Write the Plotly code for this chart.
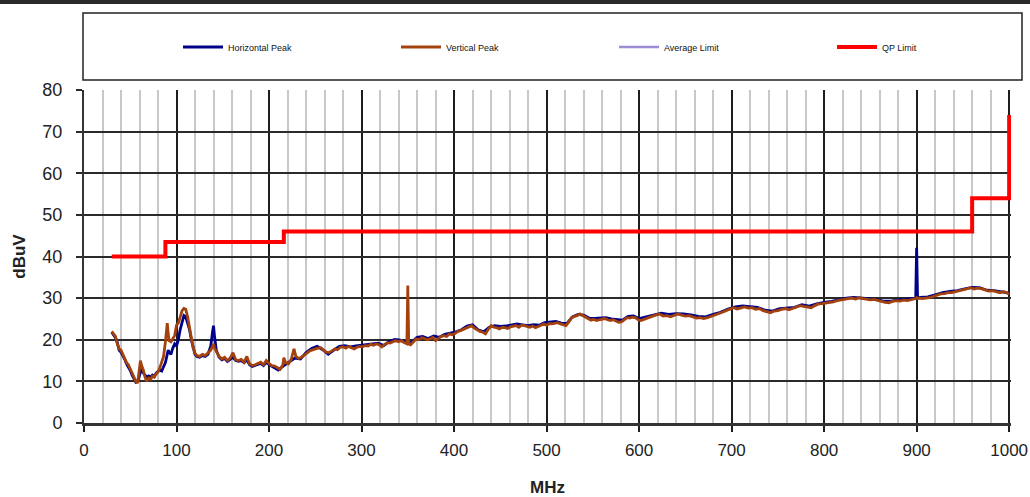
import plotly.graph_objects as go

# ---- Measured emission sweep, 30 MHz - 1 GHz (dBuV) ----
vert_freq = [
    30, 32, 34, 36, 38, 40, 42, 44, 46, 48, 50, 52, 54, 56, 58, 60, 61, 62, 64, 66,
    68, 70, 72, 74, 76, 78, 80, 82, 84, 86, 88, 89, 90, 91, 92, 94, 96, 98, 100, 102,
    104, 106, 108, 110, 112, 114, 116, 118, 120, 122, 125, 128, 131, 134, 137, 139, 140, 141, 143, 146,
    149, 152, 155, 158, 161, 164, 167, 170, 173, 176, 179, 182, 185, 188, 191, 194, 197, 200,
    203, 206, 209, 212, 215, 216, 218, 221, 224, 227, 229, 232, 235, 238, 241, 244, 247, 250,
    253, 256, 259, 262, 265, 268, 271, 274, 277, 280, 283, 286, 289, 292, 295, 298, 301, 304,
    307, 310, 313, 316, 319, 322, 325, 328, 331, 334, 337, 340, 343, 346, 349, 350, 351, 353,
    356, 359, 362, 365, 368, 371, 374, 377, 380, 383, 386, 389, 392, 395, 398,
    401, 404, 407, 410, 413, 416, 419, 422, 425, 428, 431, 434, 437, 440, 443, 446, 449, 452,
    455, 458, 461, 464, 467, 470, 473, 476, 479, 482, 485, 488, 491, 494, 497, 500, 503, 506,
    509, 512, 515, 518, 521, 524, 527, 530, 533, 536, 539, 542, 545, 548, 551, 554, 557, 560,
    563, 566, 569, 572, 575, 578, 581, 584, 587, 590, 593, 596, 599,
    602, 606, 610, 614, 618, 622, 626, 630, 634, 638, 642, 646, 650, 654, 658, 662, 666, 670,
    674, 678, 682, 686, 690, 694, 698, 702, 706, 710, 714, 718, 722, 726, 730, 734, 738, 742,
    746, 750, 754, 758, 762, 766, 770, 774, 778, 782, 786, 790, 794, 798,
    802, 806, 810, 814, 818, 822, 826, 830, 834, 838, 842, 846, 850, 854, 858, 862, 866, 870,
    874, 878, 882, 886, 890, 894, 897, 899, 900, 901, 903, 906, 910, 914, 918, 922, 926, 930,
    934, 938, 942, 946, 950, 954, 958, 962, 966, 970, 974, 978, 982, 986, 990, 994, 998, 1000,
]
vert_peak = [
    22.0, 21.5, 20.8, 19.0, 17.8, 17.5, 16.5, 15.8, 14.5, 14.0, 13.0, 12.0, 10.8, 10.0, 9.6, 12.5, 15.0, 14.0, 12.8, 11.0,
    10.0, 10.8, 10.5, 11.2, 11.0, 11.8, 12.2, 13.3, 14.5, 16.0, 19.5, 22.0, 24.0, 21.5, 19.8, 19.5, 20.3, 21.0, 23.5, 24.0,
    25.5, 27.0, 27.5, 27.3, 25.5, 23.0, 20.5, 18.0, 16.8, 16.2, 16.0, 16.5, 16.2, 16.8, 17.5, 18.5, 19.0, 18.0, 17.3, 16.0,
    15.4, 15.8, 15.0, 15.6, 16.9, 15.2, 15.0, 15.3, 14.6, 16.0, 14.2, 13.8, 14.0, 14.3, 14.6, 14.0, 15.0, 14.3,
    13.8, 13.7, 13.2, 12.9, 14.0, 15.7, 14.5, 14.2, 15.3, 17.8, 16.0, 15.5, 15.8, 16.4, 16.8, 17.3, 17.6, 17.8,
    18.0, 18.1, 17.5, 17.0, 16.9, 17.4, 17.8, 17.6, 18.2, 18.3, 18.0, 18.4, 18.1, 17.8, 18.2, 18.4, 18.3, 18.6,
    18.5, 18.9, 18.7, 19.0, 18.8, 18.3, 18.9, 19.3, 19.2, 19.6, 19.8, 19.5, 19.8, 19.3, 19.0, 33.0, 19.0, 18.8,
    19.6, 20.2, 20.0, 20.5, 20.3, 20.0, 20.2, 20.6, 19.8, 20.4, 20.8, 21.0, 20.8, 21.4, 21.2,
    21.5, 22.0, 22.2, 22.5, 22.9, 23.1, 23.4, 22.8, 22.3, 22.0, 21.8, 21.4, 22.5, 23.4, 23.0, 22.9, 22.6, 23.0,
    22.9, 22.7, 23.1, 23.3, 23.4, 23.0, 23.5, 23.4, 23.2, 23.0, 23.3, 22.9, 23.2, 23.6, 23.8, 23.5, 23.9, 23.8,
    24.0, 24.1, 23.8, 23.6, 23.4, 24.3, 25.3, 25.6, 25.8, 26.2, 25.8, 25.3, 25.0, 24.7, 24.9, 24.6, 24.8, 25.0,
    25.1, 24.8, 24.6, 24.8, 24.5, 24.2, 24.3, 24.9, 25.3, 25.2, 25.4, 25.3, 24.8,
    24.6, 25.0, 25.3, 25.6, 25.9, 26.2, 25.7, 25.8, 25.5, 25.9, 26.2, 25.9, 25.7, 25.8, 25.5, 25.2, 25.3, 25.1,
    25.3, 25.6, 26.0, 26.3, 26.6, 27.0, 27.3, 27.7, 27.4, 27.7, 27.9, 27.6, 27.7, 27.3, 27.5, 27.0, 26.7, 26.5,
    26.9, 27.0, 27.3, 27.5, 27.2, 27.5, 27.8, 28.2, 28.0, 27.8, 27.7, 28.2, 28.6, 28.7,
    28.8, 28.9, 29.1, 29.4, 29.5, 29.7, 29.9, 30.0, 29.8, 30.1, 29.9, 29.8, 29.6, 29.7, 29.4, 29.2, 29.0, 28.9,
    29.2, 29.4, 29.3, 29.5, 29.4, 29.6, 29.8, 29.9, 30.1, 29.9, 30.0, 29.9, 30.0, 30.1, 30.4, 30.7, 31.0, 31.1,
    31.3, 31.3, 31.5, 31.8, 31.9, 32.2, 32.5, 32.2, 32.4, 32.3, 32.0, 31.7, 31.8, 31.5, 31.3, 31.6, 31.2, 31.0,
]

horiz_freq = [
    30, 32, 34, 36, 38, 40, 42, 44, 46, 48, 50, 52, 54, 56, 58, 60, 61, 62, 64, 66,
    68, 70, 72, 74, 76, 78, 80, 82, 84, 86, 88, 89, 90, 91, 92, 94, 96, 98, 100, 102,
    104, 106, 108, 110, 112, 114, 116, 118, 120, 122, 125, 128, 131, 134, 137, 139, 140, 141, 143, 146,
    149, 152, 155, 158, 161, 164, 167, 170, 173, 176, 179, 182, 185, 188, 191, 194, 197, 200,
    204, 210, 216, 222, 228, 234, 240, 246, 252, 258, 264, 270, 276, 282, 288, 294, 300, 306,
    312, 318, 324, 330, 336, 342, 348, 354, 360, 366, 372, 378, 384, 390, 396, 402, 408, 414,
    420, 426, 432, 438, 444, 450, 456, 462, 468, 474, 480, 486, 492, 498, 504, 510, 516, 522,
    528, 534, 540, 546, 552, 558, 564, 570, 576, 582, 588, 594, 600,
    608, 616, 624, 632, 640, 648, 656, 664, 672, 680, 688, 696, 704, 712, 720, 728, 736, 744,
    752, 760, 768, 776, 784, 792, 800, 808, 816, 824, 832, 840, 848, 856, 864, 872, 880, 888,
    896, 899, 900, 901, 904, 912, 920, 928, 936, 944, 952, 960, 968, 976, 984, 992, 1000,
]
horiz_peak = [
    21.8, 21.2, 20.5, 19.3, 17.5, 17.0, 16.2, 15.3, 14.2, 13.5, 12.6, 11.5, 10.5, 9.8, 10.0, 11.5, 12.8, 13.0, 12.0, 11.5,
    11.0, 11.3, 11.0, 11.5, 11.2, 12.0, 12.5, 12.8, 12.5, 13.5, 14.5, 15.5, 16.5, 17.5, 17.0, 16.5, 18.0, 19.0, 18.5, 20.0,
    22.5, 24.0, 25.8, 25.5, 24.0, 22.5, 20.0, 17.8, 16.5, 16.0, 15.8, 16.2, 16.0, 16.5, 18.5, 22.0, 23.4, 21.0, 17.5, 15.8,
    15.2, 15.5, 14.8, 15.3, 15.8, 15.0, 14.8, 15.0, 14.5, 15.2, 14.0, 13.6, 13.8, 14.0, 14.3, 13.8, 14.6, 14.0,
    13.5, 12.7, 13.8, 14.6, 15.6, 15.4, 16.9, 17.9, 18.4, 17.6, 16.5, 17.5, 18.4, 18.6, 18.3, 18.5, 18.7, 18.9,
    19.1, 19.2, 18.6, 19.6, 20.1, 19.9, 19.4, 19.4, 20.6, 20.8, 20.3, 20.9, 20.6, 21.3, 21.6, 21.9, 22.4, 23.3,
    23.6, 22.4, 21.9, 23.0, 23.4, 23.2, 23.3, 23.5, 23.8, 23.6, 23.4, 23.6, 23.5, 24.1, 24.2, 24.4, 24.0, 23.9,
    25.5, 26.1, 25.9, 25.2, 25.1, 25.2, 25.3, 25.0, 24.8, 24.7, 25.6, 25.7, 25.1,
    25.5, 26.0, 26.4, 26.1, 26.3, 26.2, 26.0, 25.6, 25.5, 26.1, 26.6, 27.4, 27.9, 28.1, 28.0, 27.8, 27.1, 26.9,
    27.5, 27.7, 27.8, 28.4, 28.1, 28.6, 29.0, 29.2, 29.6, 30.0, 30.2, 30.1, 29.9, 29.7, 29.3, 29.3, 29.6, 29.7,
    29.9, 30.0, 42.1, 30.0, 30.2, 30.3, 30.8, 31.3, 31.6, 31.8, 32.2, 32.6, 32.5, 31.9, 31.8, 31.5, 31.2,
]

# ---- Limit lines (step changes at the listed frequencies) ----
qp_freq = [30, 88, 216, 960, 1000]
qp_limit = [40, 43.5, 46, 54, 74]
avg_freq = [None]
avg_limit = [None]

W, H = 1030, 497
ML, MR, MT, MB = 84, 19, 90, 74
PW, PH = W - ML - MR, H - MT - MB


def px_x(p):
    return (p - ML) / PW


def px_y(p):
    return (H - MB - p) / PH


fig = go.Figure()
fig.add_trace(go.Scatter(x=horiz_freq, y=horiz_peak, mode="lines", name="Horizontal Peak",
                         line=dict(color="#00008B", width=2.8)))
fig.add_trace(go.Scatter(x=vert_freq, y=vert_peak, mode="lines", name="Vertical Peak",
                         line=dict(color="#A3420C", width=2.8)))
fig.add_trace(go.Scatter(x=avg_freq, y=avg_limit, mode="lines", name="Average Limit",
                         line=dict(color="#9C8DD6", width=2.5)))
fig.add_trace(go.Scatter(x=qp_freq, y=qp_limit, mode="lines", name="QP Limit",
                         line=dict(color="#FF0000", width=4, shape="hv")))

axis_font = dict(family="Liberation Sans, Arial, sans-serif", size=17, color="#222222")

fig.update_layout(
    width=W, height=H, autosize=False,
    margin=dict(l=ML, r=MR, t=MT, b=MB, pad=0, autoexpand=False),
    paper_bgcolor="white", plot_bgcolor="white",
    showlegend=True,
    legend=dict(
        orientation="h", x=px_x(178), xanchor="left", y=px_y(47), yanchor="middle",
        entrywidth=163, entrywidthmode="pixels",
        font=dict(family="Liberation Sans Narrow, Arial Narrow, Liberation Sans, sans-serif",
                  size=9, color="#111111"),
        bgcolor="rgba(0,0,0,0)", borderwidth=0, itemwidth=40,
    ),
    xaxis=dict(
        range=[0, 1002], dtick=100, tick0=0,
        showgrid=True, gridcolor="#1e1e1e", gridwidth=1.5,
        minor=dict(dtick=20, showgrid=True, gridcolor="#c8c8c8", gridwidth=2),
        ticks="outside", ticklen=6, tickwidth=1.5, tickcolor="#1e1e1e",
        ticklabelstandoff=4,
        showline=True, linecolor="#333333", linewidth=3, mirror=False,
        zeroline=False, tickfont=axis_font,
        title=dict(text="<b>MHz</b>", font=axis_font, standoff=34),
    ),
    yaxis=dict(
        range=[0, 80], dtick=10, tick0=0,
        showgrid=True, gridcolor="#2a2a2a", gridwidth=1.5,
        ticks="outside", ticklen=6, tickwidth=1.5, tickcolor="#2a2a2a",
        ticklabelstandoff=10,
        showline=True, linecolor="#333333", linewidth=2, mirror=False,
        zeroline=False, tickfont=dict(axis_font, size=18),
        title=dict(text="<b>dBuV</b>", font=axis_font, standoff=12),
    ),
    shapes=[
        # legend frame
        dict(type="rect", xref="paper", yref="paper",
             x0=px_x(83), x1=px_x(1022), y0=px_y(80), y1=px_y(13),
             line=dict(color="#222222", width=1.5), fillcolor="rgba(0,0,0,0)", layer="above"),
        # header rule across the page
        dict(type="line", xref="paper", yref="paper",
             x0=px_x(0), x1=px_x(W), y0=px_y(2), y1=px_y(2),
             line=dict(color="#2a2a2a", width=4)),
    ],
)

fig.write_html("out.html")
